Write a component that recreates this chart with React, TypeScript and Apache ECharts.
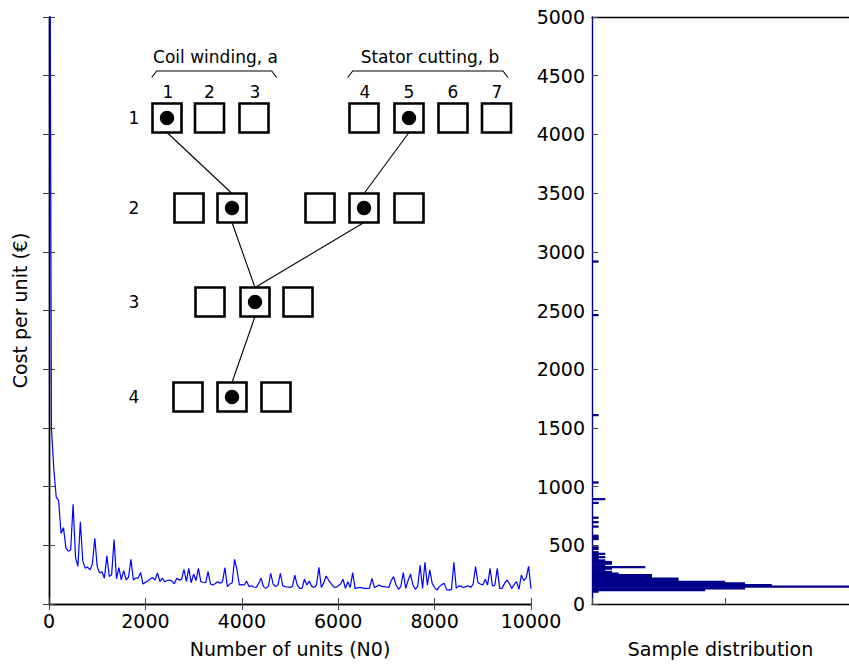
import React, { useEffect, useRef } from "react";
import * as echarts from "echarts";

// Number of units N0 (x values of the sampled curve)
const unitsN = [
  0, 50, 100, 150, 200, 250, 300, 350, 400, 450,
  500, 550, 600, 650, 700, 750, 800, 850, 900, 950,
  1000, 1050, 1100, 1150, 1200, 1250, 1300, 1350, 1400, 1450,
  1500, 1550, 1600, 1650, 1700, 1750, 1800, 1850, 1900, 1950,
  2000, 2050, 2100, 2150, 2200, 2250, 2300, 2350, 2400, 2450,
  2500, 2550, 2600, 2650, 2700, 2750, 2800, 2850, 2900, 2950,
  3000, 3050, 3100, 3150, 3200, 3250, 3300, 3350, 3400, 3450,
  3500, 3550, 3600, 3650, 3700, 3750, 3800, 3850, 3900, 3950,
  4000, 4050, 4100, 4150, 4200, 4250, 4300, 4350, 4400, 4450,
  4500, 4550, 4600, 4650, 4700, 4750, 4800, 4850, 4900, 4950,
  5000, 5050, 5100, 5150, 5200, 5250, 5300, 5350, 5400, 5450,
  5500, 5550, 5600, 5650, 5700, 5750, 5800, 5850, 5900, 5950,
  6000, 6050, 6100, 6150, 6200, 6250, 6300, 6350, 6400, 6450,
  6500, 6550, 6600, 6650, 6700, 6750, 6800, 6850, 6900, 6950,
  7000, 7050, 7100, 7150, 7200, 7250, 7300, 7350, 7400, 7450,
  7500, 7550, 7600, 7650, 7700, 7750, 7800, 7850, 7900, 7950,
  8000, 8050, 8100, 8150, 8200, 8250, 8300, 8350, 8400, 8450,
  8500, 8550, 8600, 8650, 8700, 8750, 8800, 8850, 8900, 8950,
  9000, 9050, 9100, 9150, 9200, 9250, 9300, 9350, 9400, 9450,
  9500, 9550, 9600, 9650, 9700, 9750, 9800, 9850, 9900, 9950,
  10000,
];

// Cost per unit (€) at each N0
const costPerUnit = [
  9000, 1500, 1150, 910, 880, 600, 650, 480, 450, 460,
  850, 400, 320, 700, 370, 305, 315, 290, 340, 560,
  320, 265, 275, 220, 410, 235, 250, 550, 213, 309,
  205, 284, 205, 228, 380, 204, 221, 221, 269, 170,
  185, 195, 213, 225, 204, 264, 190, 221, 190, 200,
  204, 195, 172, 219, 204, 210, 295, 190, 304, 181,
  255, 200, 304, 190, 185, 181, 275, 170, 162, 175,
  190, 176, 190, 309, 148, 170, 181, 380, 290, 162,
  165, 162, 195, 148, 155, 145, 141, 176, 219, 148,
  133, 150, 261, 170, 148, 162, 261, 155, 148, 145,
  141, 150, 245, 160, 133, 133, 211, 162, 195, 150,
  141, 162, 312, 141, 180, 239, 204, 175, 148, 141,
  155, 170, 211, 133, 190, 141, 267, 133, 137, 141,
  137, 133, 133, 135, 219, 141, 150, 162, 150, 148,
  145, 141, 200, 233, 162, 125, 150, 267, 133, 200,
  255, 162, 125, 150, 330, 133, 355, 160, 290, 176,
  140, 118, 148, 165, 176, 120, 118, 125, 355, 133,
  155, 150, 141, 148, 155, 141, 170, 318, 181, 170,
  162, 211, 162, 304, 155, 160, 304, 133, 133, 175,
  204, 176, 133, 165, 190, 125, 247, 199, 220, 320,
  130,
];

// Sample distribution histogram: bin centres (€) and counts
const HIST_BIN_WIDTH = 14;
const histBinCenter = [
  105, 119, 133, 147, 161, 175, 189, 203, 217, 231,
  245, 259, 273, 287, 301, 315, 329, 343, 357, 371,
  385, 399, 413, 427, 441, 469, 483, 553, 567, 581,
  659, 697, 735, 861, 893, 1035, 1609, 2461, 2917,
];
const histCount = [
  1, 17, 23, 40, 27, 23, 20, 13, 13, 9,
  9, 4, 3, 2, 3, 8, 2, 3, 3, 2,
  1, 2, 1, 2, 1, 1, 1, 1, 1, 1,
  1, 1, 1, 1, 2, 1, 1, 1, 1,
];

const FONT = "DejaVu Sans";

function buildDiagram(): any[] {
  const els: any[] = [];
  const S = 29;
  const rows = [
    { y: 118, xs: [167, 209.5, 254, 364, 409, 453, 496.5], dots: [167, 409] },
    { y: 208, xs: [189, 232, 320, 364, 409], dots: [232, 364] },
    { y: 302, xs: [210, 255, 298], dots: [255] },
    { y: 397, xs: [188, 232, 276], dots: [232] },
  ];
  const links = [
    [0, 167, 1, 232],
    [0, 409, 1, 364],
    [1, 232, 2, 255],
    [1, 364, 2, 255],
    [2, 255, 3, 232],
  ];
  links.forEach(([r1, x1, r2, x2]) => {
    els.push({
      type: "line",
      shape: { x1, y1: rows[r1].y + S / 2, x2, y2: rows[r2].y - S / 2 },
      style: { stroke: "#000", lineWidth: 1.1 },
      z: 100,
    });
  });
  rows.forEach((row, ri) => {
    row.xs.forEach((x) => {
      els.push({
        type: "rect",
        shape: { x: x - S / 2, y: row.y - S / 2, width: S, height: S },
        style: { fill: "#fff", stroke: "#000", lineWidth: 2.6 },
        z: 101,
      });
    });
    row.dots.forEach((x) => {
      els.push({
        type: "circle",
        shape: { cx: x, cy: row.y, r: 7.2 },
        style: { fill: "#000" },
        z: 102,
      });
    });
    els.push({
      type: "text",
      x: 134,
      y: row.y,
      style: { text: String(ri + 1), font: `17px '${FONT}'`, fill: "#000", align: "center", verticalAlign: "middle" },
      z: 102,
    });
  });
  const cols = [
    [168, "1"], [209.5, "2"], [255, "3"], [365, "4"], [409, "5"], [453, "6"], [497, "7"],
  ];
  cols.forEach(([x, t]) => {
    els.push({
      type: "text",
      x,
      y: 92,
      style: { text: t, font: `17px '${FONT}'`, fill: "#000", align: "center", verticalAlign: "middle" },
      z: 102,
    });
  });
  const headers = [
    [215.5, "Coil winding, a", 151.7, 276.7],
    [430, "Stator cutting, b", 347.7, 508],
  ];
  headers.forEach(([x, t, xl, xr]: any) => {
    els.push({
      type: "text",
      x,
      y: 57,
      style: { text: t, font: `17px '${FONT}'`, fill: "#000", align: "center", verticalAlign: "middle" },
      z: 102,
    });
    els.push({
      type: "polyline",
      shape: { points: [[xl, 77.5], [xl + 5, 71], [xr - 5, 71], [xr, 77.5]] },
      style: { stroke: "#000", lineWidth: 1.1, fill: "none" },
      z: 102,
    });
  });
  return els;
}

export default function App() {
  const ref = useRef<HTMLDivElement>(null);
  useEffect(() => {
    const chart = echarts.init(ref.current!, null, { renderer: "svg" });
    const axisLine = { show: true, lineStyle: { color: "#000", width: 1.4 } };
    const tick = { show: true, inside: true, length: 6, lineStyle: { color: "#444", width: 1 } };
    const plain = (v: number) => String(v);
    const label = { fontSize: 19, color: "#000", fontFamily: FONT, formatter: plain };
    const option: any = {
      animation: false,
      backgroundColor: "#fff",
      textStyle: { fontFamily: FONT },
      grid: [
        { left: 49, top: 17, width: 482, height: 587 },
        { left: 592, top: 17, width: 257, height: 587 },
      ],
      xAxis: [
        {
          gridIndex: 0, type: "value", min: 0, max: 10000, interval: 2000, position: "bottom",
          axisLine, axisTick: tick, splitLine: { show: false },
          axisLabel: { ...label, margin: 7, showMaxLabel: true, showMinLabel: true },
          name: "Number of units (N0)", nameLocation: "middle", nameGap: 35,
          nameTextStyle: { fontSize: 19, color: "#000", fontFamily: FONT },
        },
        {
          gridIndex: 0, type: "value", min: 0, max: 10000, interval: 2000, position: "top",
          axisLine, axisTick: tick, splitLine: { show: false }, axisLabel: { show: false },
        },
        {
          gridIndex: 1, type: "value", min: 0, max: 38.6, interval: 20, position: "bottom",
          axisLine, axisTick: tick, splitLine: { show: false }, axisLabel: { show: false },
          name: "Sample distribution", nameLocation: "middle", nameGap: 35,
          nameTextStyle: { fontSize: 19, color: "#000", fontFamily: FONT },
        },
        {
          gridIndex: 1, type: "value", min: 0, max: 38.6, interval: 20, position: "top",
          axisLine, axisTick: { show: false }, splitLine: { show: false }, axisLabel: { show: false },
        },
      ],
      yAxis: [
        {
          gridIndex: 0, type: "value", min: 0, max: 5000, interval: 500, position: "left",
          axisLine, axisTick: tick, splitLine: { show: false }, axisLabel: { show: false },
          name: "Cost per unit (€)", nameLocation: "middle", nameGap: 20, nameRotate: 90,
          nameTextStyle: { fontSize: 19, color: "#000", fontFamily: FONT },
        },
        {
          gridIndex: 0, type: "value", min: 0, max: 5000, interval: 500, position: "right",
          axisLine, axisTick: tick, splitLine: { show: false }, axisLabel: { show: false },
        },
        {
          gridIndex: 1, type: "value", min: 0, max: 5000, interval: 500, position: "left",
          axisLine: { show: true, lineStyle: { color: "#00008b", width: 1.4 } },
          axisTick: tick, splitLine: { show: false },
          axisLabel: { ...label, margin: 7 },
        },
      ],
      series: [
        {
          type: "line",
          xAxisIndex: 0,
          yAxisIndex: 0,
          data: unitsN.map((n, i) => [n, costPerUnit[i]]),
          showSymbol: false,
          symbol: "none",
          clip: true,
          lineStyle: { color: "#0000ff", width: 1.2 },
          z: 3,
        },
        {
          type: "custom",
          xAxisIndex: 2,
          yAxisIndex: 2,
          clip: true,
          encode: { x: 2, y: [0, 1] },
          data: histBinCenter.map((c, i) => [c - HIST_BIN_WIDTH / 2, c + HIST_BIN_WIDTH / 2, histCount[i]]),
          renderItem: (params: any, api: any) => {
            const lo = api.value(0);
            const hi = api.value(1);
            const c = api.value(2);
            const p0 = api.coord([0, hi]);
            const p1 = api.coord([c, lo]);
            return {
              type: "rect",
              shape: { x: p0[0], y: p0[1] - 0.3, width: p1[0] - p0[0], height: Math.max(p1[1] - p0[1], 1.2) + 0.6 },
              style: { fill: "#00008b" },
            };
          },
        },
      ],
      graphic: buildDiagram(),
    };
    chart.setOption(option);
    return () => chart.dispose();
  }, []);
  return (
    <div
      ref={ref}
      style={{ position: "absolute", left: 0, top: 0, width: 849, height: 664, background: "#fff" }}
    />
  );
}
